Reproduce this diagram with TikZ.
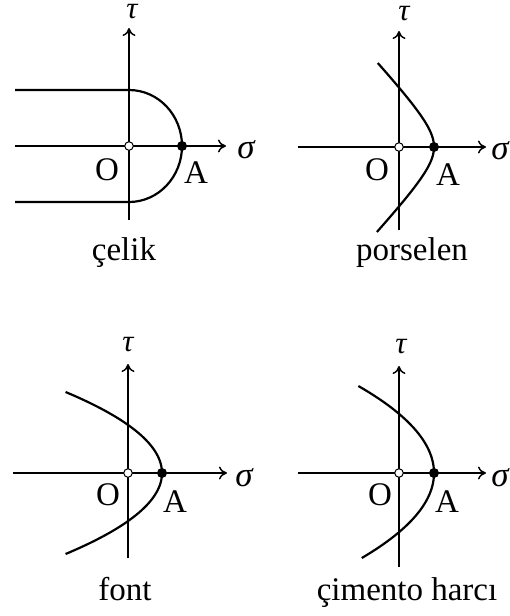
\documentclass[tikz,border=0pt]{standalone}
\usepackage{fontspec}
\setmainfont{Liberation Serif}
\usetikzlibrary{arrows.meta}
\begin{document}
\begin{tikzpicture}[x=1pt,y=-1pt,
  axis/.style={line width=1.2pt,-{Computer Modern Rightarrow[length=8pt,width=13pt,line width=1.5pt]}},
  curve/.style={line width=2.2pt},
  lbl/.style={anchor=base,inner sep=0pt,font=\fontsize{33}{33}\selectfont},
  glbl/.style={anchor=base,inner sep=0pt,font=\fontsize{35}{35}\selectfont\itshape},
  tlbl/.style={anchor=base,inner sep=0pt,text height=13pt,text depth=0pt,font=\fontsize{31}{31}\selectfont\itshape},
  opendot/.style={circle,draw,line width=1pt,fill=white,minimum size=8.5pt,inner sep=0pt},
  fulldot/.style={circle,fill=black,minimum size=10pt,inner sep=0pt}]
\useasboundingbox (0,0) rectangle (510,616);
\clip (0,0) rectangle (510,616);
% ---------- panel 1: celik ----------
\coordinate (s1a) at (15,146); \coordinate (s1b) at (226,146);
\coordinate (t1a) at (129,220); \coordinate (t1b) at (129,28);
\draw[axis] (s1a) -- (s1b);
\draw[axis] (t1a) -- (t1b);
\coordinate (u1a) at (15,90); \coordinate (u1b) at (129,90);
\coordinate (l1a) at (15,202); \coordinate (l1b) at (129,202);
\coordinate (A1) at (182,146);
\draw[curve] (u1a) -- (u1b) .. controls (158.3,90) and (182,115.1) .. (A1)
  .. controls (182,176.9) and (158.3,202) .. (l1b) -- (l1a);
\node[opendot] (O1) at (129,146) {};
\node[fulldot] (P1) at (A1) {};
\node[tlbl] (tau1) at (132,18) {τ};
\node[glbl] (sig1) at (246,158) {σ};
\node[lbl] (Ol1) at (107,180) {O};
\node[lbl] (Al1) at (196,183) {A};
\node[lbl] (c1) at (124,260) {çelik};
% ---------- panel 2: porselen ----------
\coordinate (s2a) at (298,147); \coordinate (s2b) at (486,147);
\coordinate (t2a) at (399,230); \coordinate (t2b) at (399,31);
\draw[axis] (s2a) -- (s2b);
\draw[axis] (t2a) -- (t2b);
\draw[curve] plot[domain=-84:85,samples=90] ({460-26*sqrt(1+(\x/28)^2)},{147+\x});
\node[opendot] (O2) at (399,147) {};
\node[fulldot] (P2) at (434,147) {};
\node[tlbl] (tau2) at (404,20) {τ};
\node[glbl] (sig2) at (500,159) {σ};
\node[lbl] (Ol2) at (377,180) {O};
\node[lbl] (Al2) at (448,185) {A};
\node[lbl] (c2) at (412,260) {porselen};
% ---------- panel 3: font ----------
\coordinate (s3a) at (13,473); \coordinate (s3b) at (227,473);
\coordinate (t3a) at (128,558); \coordinate (t3b) at (128,364);
\draw[axis] (s3a) -- (s3b);
\draw[axis] (t3a) -- (t3b);
\draw[curve] plot[domain=-81:81,samples=80] ({162-0.0147*\x*\x},{473+\x});
\node[opendot] (O3) at (128,473) {};
\node[fulldot] (P3) at (162,473) {};
\node[tlbl] (tau3) at (128,351) {τ};
\node[glbl] (sig3) at (244,486) {σ};
\node[lbl] (Ol3) at (108,505) {O};
\node[lbl] (Al3) at (175,512) {A};
\node[lbl] (c3) at (125,600) {font};
% ---------- panel 4: cimento harci ----------
\coordinate (s4a) at (298,473); \coordinate (s4b) at (486,473);
\coordinate (t4a) at (399,567); \coordinate (t4b) at (399,366);
\draw[axis] (s4a) -- (s4b);
\draw[axis] (t4a) -- (t4b);
\draw[curve] plot[domain=-87:85,samples=80] ({434-0.0100*\x*\x},{473+\x});
\node[opendot] (O4) at (399,473) {};
\node[fulldot] (P4) at (434,473) {};
\node[tlbl] (tau4) at (401,353) {τ};
\node[glbl] (sig4) at (500,486) {σ};
\node[lbl] (Ol4) at (380,505) {O};
\node[lbl] (Al4) at (447,512) {A};
\node[lbl] (c4) at (407,600) {çimento harcı};
\end{tikzpicture}
\end{document}
